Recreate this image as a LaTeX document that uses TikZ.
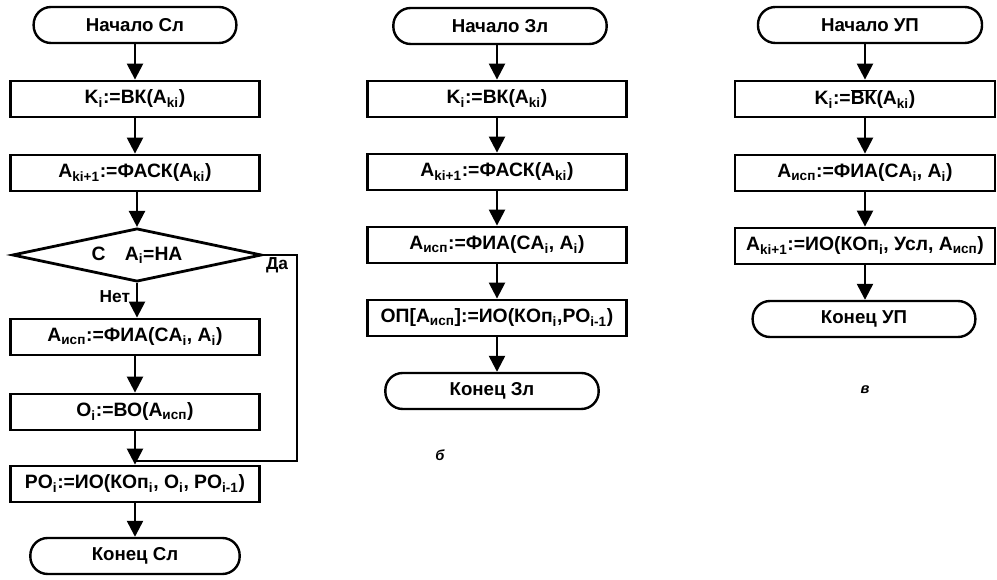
\documentclass[tikz,border=0pt]{standalone}
\usepackage{fontspec}
\setmainfont{Liberation Sans}
\usetikzlibrary{arrows.meta,shapes.geometric}
\newcommand{\sbs}[1]{\textsubscript{#1}}
\begin{document}
\begin{tikzpicture}[x=0.75pt,y=-0.75pt,
  every node/.style={font=\fontsize{14.5}{16}\selectfont\bfseries},
  procbox/.style={draw,line width=2.1pt,minimum height=27pt,inner sep=1pt},
  termbox/.style={draw,line width=1.8pt,rounded corners=13pt,minimum height=27pt,font=\fontsize{14}{16}\selectfont\bfseries},
  decbox/.style={draw,line width=2.1pt,diamond,shape aspect=4.6,minimum width=187pt,minimum height=40pt,inner sep=0pt},
  flow/.style={line width=1.8pt,-{Triangle[width=12pt,length=12pt]}},
  plain/.style={line width=1.8pt},
  lbl/.style={font=\fontsize{13}{15}\selectfont\bfseries},
  figcap/.style={font=\fontsize{11}{13}\selectfont\bfseries\itshape}]
\useasboundingbox (0,0) rectangle (997,580);
% ---------- column a ----------
\node[termbox,minimum width=152pt] (sa) at (135,25) {Начало Сл};
\node[procbox,minimum width=187pt] (a1) at (135,99) {K\sbs{i}:=ВК(A\sbs{ki})};
\node[procbox,minimum width=187pt] (a2) at (135,173) {A\sbs{ki+1}:=ФАСК(A\sbs{ki})};
\node[decbox] (da) at (137,255) {C\quad A\sbs{i}=НА};
\node[procbox,minimum width=187pt] (a3) at (135,337) {A\sbs{исп}:=ФИА(CA\sbs{i}, A\sbs{i})};
\node[procbox,minimum width=187pt] (a4) at (135,412) {O\sbs{i}:=ВО(A\sbs{исп})};
\node[procbox,minimum width=187pt] (a5) at (135,484) {PO\sbs{i}:=ИО(КОп\sbs{i}, O\sbs{i}, PO\sbs{i-1})};
\node[termbox,minimum width=157pt] (ea) at (135,556) {Конец Сл};
\draw[flow] (sa) -- (a1);
\draw[flow] (a1) -- (a2);
\draw[flow] (a2.south -| da.north) -- (da.north);
\draw[flow] (da.south) -- (da.south |- a3.north) node[lbl,pos=0.4,left=1pt] {Нет};
\draw[flow] (a3) -- (a4);
\draw[flow] (a4) -- (a5);
\draw[flow] (a5) -- (ea);
\coordinate (ra) at (297,255);
\coordinate (rb) at (297,461);
\coordinate (ja) at (135,461);
\draw[plain] (da.east) -- (ra) -- (rb) -- (ja);
\node[lbl] (yes) at (277,265) {Да};
% ---------- column b ----------
\node[termbox,minimum width=160pt] (sb) at (500,26) {Начало Зл};
\node[procbox,minimum width=194pt] (b1) at (497,99) {K\sbs{i}:=ВК(A\sbs{ki})};
\node[procbox,minimum width=194pt] (b2) at (497,172) {A\sbs{ki+1}:=ФАСК(A\sbs{ki})};
\node[procbox,minimum width=194pt] (b3) at (497,245) {A\sbs{исп}:=ФИА(CA\sbs{i}, A\sbs{i})};
\node[procbox,minimum width=194pt] (b4) at (497,318) {ОП[A\sbs{исп}]:=ИО(КОп\sbs{i},PO\sbs{i-1})};
\node[termbox,minimum width=160pt] (eb) at (492,391) {Конец Зл};
\draw[flow] (sb.south -| b1.north) -- (b1.north);
\draw[flow] (b1) -- (b2);
\draw[flow] (b2) -- (b3);
\draw[flow] (b3) -- (b4);
\draw[flow] (b4.south) -- (b4.south |- eb.north);
\node[figcap] (capb) at (440,455) {б};
% ---------- column c ----------
\node[termbox,minimum width=168pt] (sc) at (870,25) {Начало УП};
\node[procbox,minimum width=195pt] (c1) at (865,99) {K\sbs{i}:=$\overline{\mbox{ВК}}$(A\sbs{ki})};
\node[procbox,minimum width=195pt] (c2) at (865,173) {A\sbs{исп}:=ФИА(CA\sbs{i}, A\sbs{i})};
\node[procbox,minimum width=195pt] (c3) at (865,246) {A\sbs{ki+1}:=ИО(КОп\sbs{i}, Усл, A\sbs{исп})};
\node[termbox,minimum width=167pt] (ec) at (864,319) {Конец УП};
\draw[flow] (sc.south -| c1.north) -- (c1.north);
\draw[flow] (c1) -- (c2);
\draw[flow] (c2) -- (c3);
\draw[flow] (c3.south) -- (c3.south |- ec.north);
\node[figcap] (capc) at (865,390) {в};
\end{tikzpicture}
\end{document}
